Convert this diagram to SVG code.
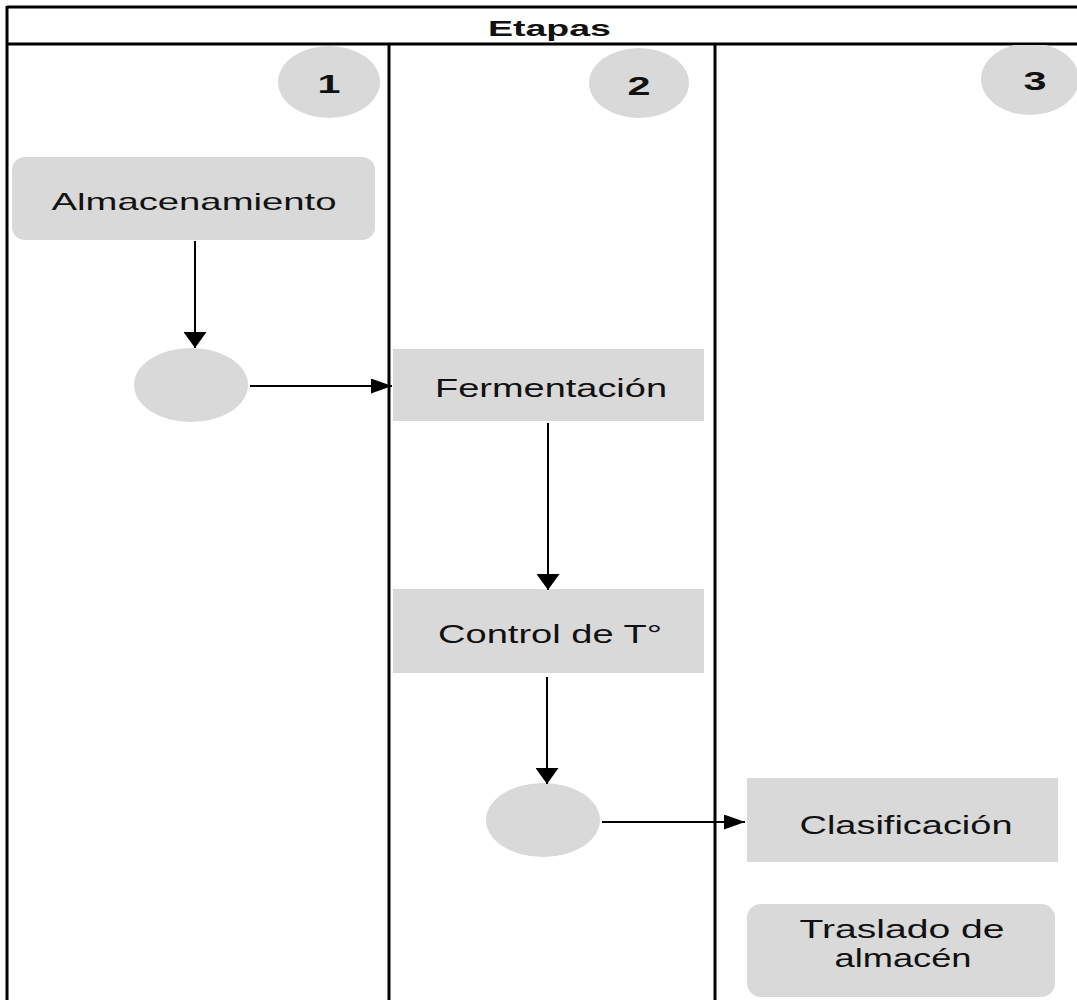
<svg xmlns="http://www.w3.org/2000/svg" width="1077" height="1000" viewBox="0 0 1077 1000">
<style>
.frame{stroke:#000;stroke-width:3;fill:none}
.shape{fill:#d9d9d9;stroke:none}
.lbl{font-family:"Liberation Sans",Arial,sans-serif;fill:#111;text-anchor:middle}
.num{font-family:"Liberation Sans",Arial,sans-serif;font-weight:bold;font-size:26px;fill:#111;text-anchor:middle}
.conn{stroke:#000;stroke-width:2;fill:none}
</style>
<defs>
<marker id="ahv" markerUnits="userSpaceOnUse" viewBox="0 0 16 23" refX="16" refY="11.5" markerWidth="16" markerHeight="23" orient="auto">
<path d="M0,0 L16,11.5 L0,23 Z" fill="#000"/>
</marker>
<marker id="ahh" markerUnits="userSpaceOnUse" viewBox="0 0 21 15" refX="21" refY="7.5" markerWidth="21" markerHeight="15" orient="auto">
<path d="M0,0 L21,7.5 L0,15 Z" fill="#000"/>
</marker>
</defs>
<rect width="1077" height="1000" fill="#fff"/>
<g id="swimlane">
<line class="frame" x1="7" y1="7" x2="1077" y2="7"/>
<line class="frame" x1="7" y1="44" x2="1077" y2="44"/>
<line class="frame" x1="7" y1="6" x2="7" y2="1000"/>
<line class="frame" x1="389" y1="44" x2="389" y2="1000"/>
<line class="frame" x1="715" y1="44" x2="715" y2="1000"/>
<text class="lbl" x="549.5" y="36" font-size="22" font-weight="bold" textLength="123" lengthAdjust="spacingAndGlyphs">Etapas</text>
</g>
<g id="stage1">
<ellipse class="shape" cx="329" cy="82" rx="51" ry="36"/>
<text class="num" x="329" y="93" textLength="23" lengthAdjust="spacingAndGlyphs">1</text>
</g>
<g id="stage2">
<ellipse class="shape" cx="639" cy="83" rx="50" ry="35"/>
<text class="num" x="639" y="95" textLength="23" lengthAdjust="spacingAndGlyphs">2</text>
</g>
<g id="stage3">
<ellipse class="shape" cx="1030" cy="79" rx="49" ry="36"/>
<line x1="1000" y1="44" x2="1077" y2="44" stroke="#000" stroke-width="2"/>
<text class="num" x="1035" y="90" textLength="23" lengthAdjust="spacingAndGlyphs">3</text>
</g>
<g id="almacenamiento">
<rect class="shape" x="12" y="157" width="363" height="83" rx="13"/>
<text class="lbl" x="194" y="210" font-size="24" textLength="285" lengthAdjust="spacingAndGlyphs">Almacenamiento</text>
</g>
<g id="decision1">
<ellipse class="shape" cx="191" cy="385" rx="57" ry="37"/>
</g>
<g id="fermentacion">
<rect class="shape" x="393" y="349" width="311" height="72"/>
<text class="lbl" x="551" y="397" font-size="26" textLength="232" lengthAdjust="spacingAndGlyphs">Fermentación</text>
</g>
<g id="control">
<rect class="shape" x="393" y="589" width="311" height="84"/>
<text class="lbl" x="550" y="643" font-size="25" textLength="224" lengthAdjust="spacingAndGlyphs">Control de T°</text>
</g>
<g id="decision2">
<ellipse class="shape" cx="543" cy="820" rx="57" ry="37"/>
</g>
<g id="clasificacion">
<rect class="shape" x="747" y="778" width="311" height="84"/>
<text class="lbl" x="906" y="834" font-size="26" textLength="213" lengthAdjust="spacingAndGlyphs">Clasificación</text>
</g>
<g id="traslado">
<rect class="shape" x="747" y="904" width="308" height="93" rx="14"/>
<text class="lbl" x="902" y="938" font-size="25" textLength="205" lengthAdjust="spacingAndGlyphs">Traslado de</text>
<text class="lbl" x="903" y="967" font-size="25" textLength="137" lengthAdjust="spacingAndGlyphs">almacén</text>
</g>
<g id="connectors">
<line class="conn" x1="195" y1="241" x2="195" y2="348" marker-end="url(#ahv)"/>
<line class="conn" x1="250" y1="386" x2="392" y2="386" marker-end="url(#ahh)"/>
<line class="conn" x1="548" y1="423" x2="548" y2="590" marker-end="url(#ahv)"/>
<line class="conn" x1="547" y1="677" x2="547" y2="784" marker-end="url(#ahv)"/>
<line class="conn" x1="602" y1="822" x2="745" y2="822" marker-end="url(#ahh)"/>
</g>
</svg>
